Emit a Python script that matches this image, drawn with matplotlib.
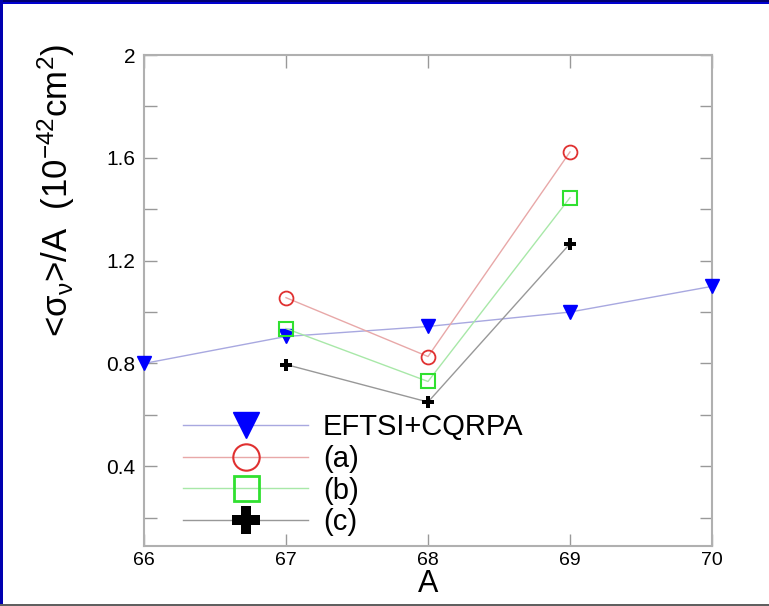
import matplotlib
matplotlib.use("Agg")
import matplotlib.pyplot as plt
from matplotlib.lines import Line2D
from matplotlib.patches import Rectangle

plt.rcParams['font.family'] = ['Liberation Sans', 'DejaVu Sans']
plt.rcParams['mathtext.fontset'] = 'custom'
plt.rcParams['mathtext.rm'] = 'Liberation Sans'
plt.rcParams['mathtext.it'] = 'Liberation Sans:italic'
plt.rcParams['mathtext.bf'] = 'Liberation Sans:bold'

# Data
A_eftsi = [66, 67, 68, 69, 70]
eftsi = [0.80, 0.905, 0.944, 1.00, 1.10]
A_abc = [67, 68, 69]
series_a = [1.056, 0.827, 1.623]
series_b = [0.936, 0.730, 1.445]
series_c = [0.796, 0.650, 1.266]
labels = ['EFTSI+CQRPA', '(a)', '(b)', '(c)']
xticks = [66, 67, 68, 69, 70]
yticks = [0.2, 0.4, 0.6, 0.8, 1.0, 1.2, 1.4, 1.6, 1.8, 2.0]
ylabels_shown = ['', '0.4', '', '0.8', '', '1.2', '', '1.6', '', '2']

fig = plt.figure(figsize=(7.69, 6.06), dpi=100)
ax = fig.add_axes([144/769, 1-546/606, 568/769, 491/606])

c_blue_line = '#a8a8e0'
c_red_line = '#e8a8a8'
c_green_line = '#a8e8a8'
c_black_line = '#989898'

ax.plot(A_eftsi, eftsi, color=c_blue_line, lw=1, marker='v', ms=10,
        mfc='#0000ff', mec='#0000ff', zorder=3, clip_on=False)
ax.plot(A_abc, series_a, color=c_red_line, lw=1, marker='o', ms=10,
        mfc='none', mec='#e03030', mew=1.3, zorder=3)
ax.plot(A_abc, series_b, color=c_green_line, lw=1, marker='s', ms=10,
        mfc='none', mec='#30e030', mew=1.5, zorder=3)
ax.plot(A_abc, series_c, color=c_black_line, lw=1, marker='P', ms=9,
        mfc='black', mec='black', mew=0, zorder=3)

ax.set_xlim(66, 70)
ax.set_ylim(0.09, 2.0)
ax.set_xticks(xticks)
ax.set_xticklabels([str(x) for x in xticks])
ax.set_yticks(yticks)
ax.set_yticklabels(ylabels_shown)

for s in ax.spines.values():
    s.set_color('#b0b0b0')
    s.set_linewidth(1.5)
ax.tick_params(direction='in', length=9, width=1, color='#999999',
               top=True, right=True, labelsize=15)
ax.tick_params(axis='x', pad=4, labelsize=14)
ax.tick_params(axis='y', pad=6)

ax.set_xlabel('A', fontsize=22, labelpad=0)
fig.text(0.073, 1-190/606, r'<$\mathregular{\sigma_{\nu}}$>/A  (10$^{-42}$cm$^{2}$)',
         rotation=90, fontsize=25, ha='center', va='center')

handles = [
    Line2D([], [], color=c_blue_line, lw=1, marker='v', ms=19, mfc='#0000ff', mec='#0000ff'),
    Line2D([], [], color=c_red_line, lw=1, marker='o', ms=19, mfc='none', mec='#e03030', mew=1.5),
    Line2D([], [], color=c_green_line, lw=1, marker='s', ms=18, mfc='none', mec='#30e030', mew=2),
    Line2D([], [], color=c_black_line, lw=1, marker='P', ms=20, mfc='black', mec='black', mew=0),
]
leg = ax.legend(handles, labels, loc='upper left', bbox_to_anchor=(183/769, 1-413/606),
                bbox_transform=fig.transFigure, frameon=False, fontsize=21,
                handlelength=4.3, handletextpad=0.5, labelspacing=0.13,
                borderpad=0, borderaxespad=0)

# slide frame
fig.add_artist(Rectangle((0, 1-4/606), 1, 4/606, transform=fig.transFigure,
                         facecolor='#000070', edgecolor='none'))
fig.add_artist(Rectangle((0, 1-4/606), 1, 1.5/606, transform=fig.transFigure,
                         facecolor='#0000d0', edgecolor='none'))
fig.add_artist(Rectangle((0, 0), 3/769, 1, transform=fig.transFigure,
                         facecolor='#0000b0', edgecolor='none'))
fig.add_artist(Rectangle((0, 0), 1, 2/606, transform=fig.transFigure,
                         facecolor='#606060', edgecolor='none'))

fig.savefig('out.png', dpi=100)
